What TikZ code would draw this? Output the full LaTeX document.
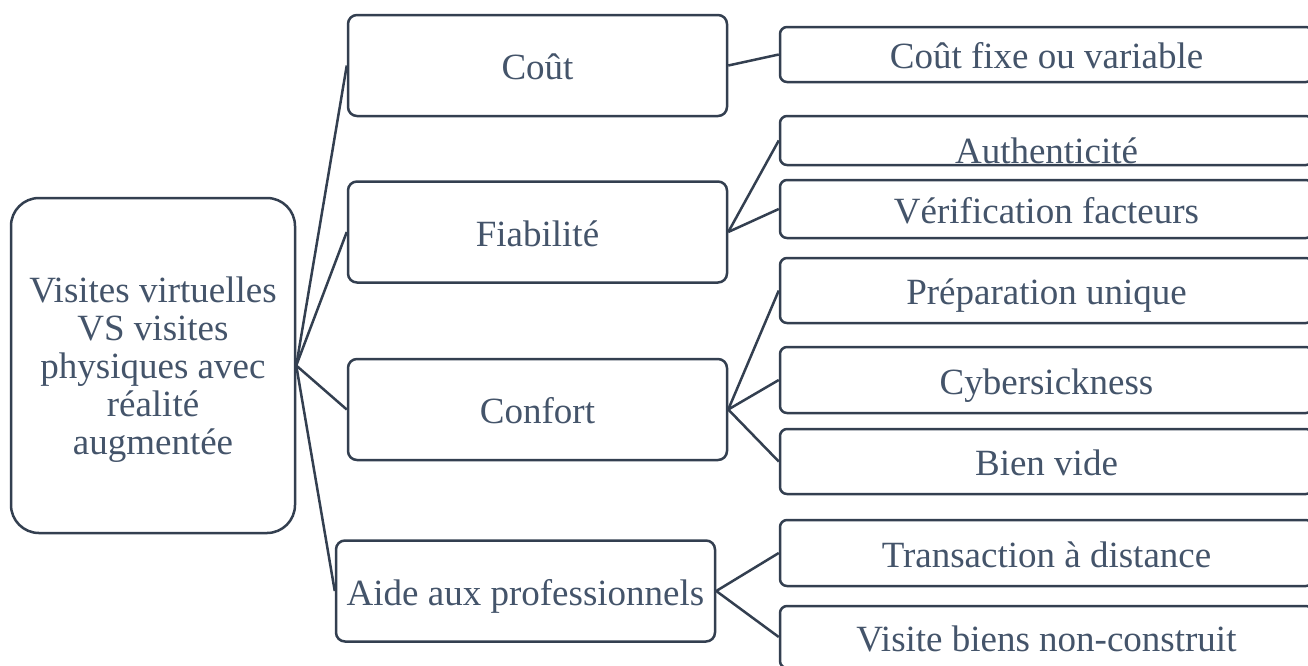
\documentclass[tikz,border=0pt]{standalone}
\usepackage{fontspec}
\setmainfont{Liberation Serif}
\definecolor{linec}{HTML}{333F50}
\definecolor{textc}{HTML}{44546A}
\tikzset{
  box/.style={draw=linec, line width=2.5pt, rounded corners=9pt, fill=white,
    inner sep=0pt, text=textc, font=\fontsize{37}{38}\selectfont,
    text height=32pt, text depth=4pt},
  rootbox/.style={draw=linec, line width=2.5pt, rounded corners=28pt, fill=white,
    inner sep=0pt},
  roottxt/.style={inner sep=0pt, text=textc, font=\fontsize{37}{38}\selectfont, align=center},
  sub/.style={box, rounded corners=7pt, minimum width=533pt},
  mid/.style={box, minimum width=379pt, minimum height=101pt},
  conn/.style={draw=linec, line width=2.5pt}
}
\begin{document}
\begin{tikzpicture}[x=1pt,y=-1pt]
\useasboundingbox (0,0) rectangle (1308,665);
\clip (0,0) rectangle (1308,665);
\fill[white] (0,0) rectangle (1308,665);
% root
\node[rootbox, minimum width=284pt, minimum height=335pt] (root) at (153,365.5) {};
\node[roottxt] (roottext) at (153,369.5)
  {Visites virtuelles\\VS visites\\physiques avec\\réalité\\augmentée};
% middle level
\node[mid] (cout) at (537.5,65.5) {Coût};
\node[mid] (fiab) at (537.5,232) {Fiabilité};
\node[mid] (conf) at (537.5,409.5) {Confort};
\node[mid] (aide) at (525.5,591) {Aide aux professionnels};
% right level
\node[sub, minimum height=55pt] (r1) at (1046.5,54.5) {Coût fixe ou variable};
\node[sub, minimum height=49pt] (r2) at (1046.5,140.5) {\raisebox{-9pt}{Authenticité}};
\node[sub, minimum height=58pt] (r3) at (1046.5,209) {Vérification facteurs};
\node[sub, minimum height=65pt] (r4) at (1046.5,290.5) {Préparation unique};
\node[sub, minimum height=66pt] (r5) at (1046.5,380) {Cybersickness};
\node[sub, minimum height=65pt] (r6) at (1046.5,461.5) {Bien vide};
\node[sub, minimum height=66pt] (r7) at (1046.5,553) {Transaction à distance};
\node[sub, minimum height=62pt] (r8) at (1046.5,637) {Visite biens non-construit};
% connectors
\draw[conn] (root.east) -- (cout.west);
\draw[conn] (root.east) -- (fiab.west);
\draw[conn] (root.east) -- (conf.west);
\draw[conn] (root.east) -- (aide.west);
\draw[conn] (cout.east) -- (r1.west);
\draw[conn] (fiab.east) -- (r2.west);
\draw[conn] (fiab.east) -- (r3.west);
\draw[conn] (conf.east) -- (r4.west);
\draw[conn] (conf.east) -- (r5.west);
\draw[conn] (conf.east) -- (r6.west);
\draw[conn] (aide.east) -- (r7.west);
\draw[conn] (aide.east) -- (r8.west);
\end{tikzpicture}
\end{document}
